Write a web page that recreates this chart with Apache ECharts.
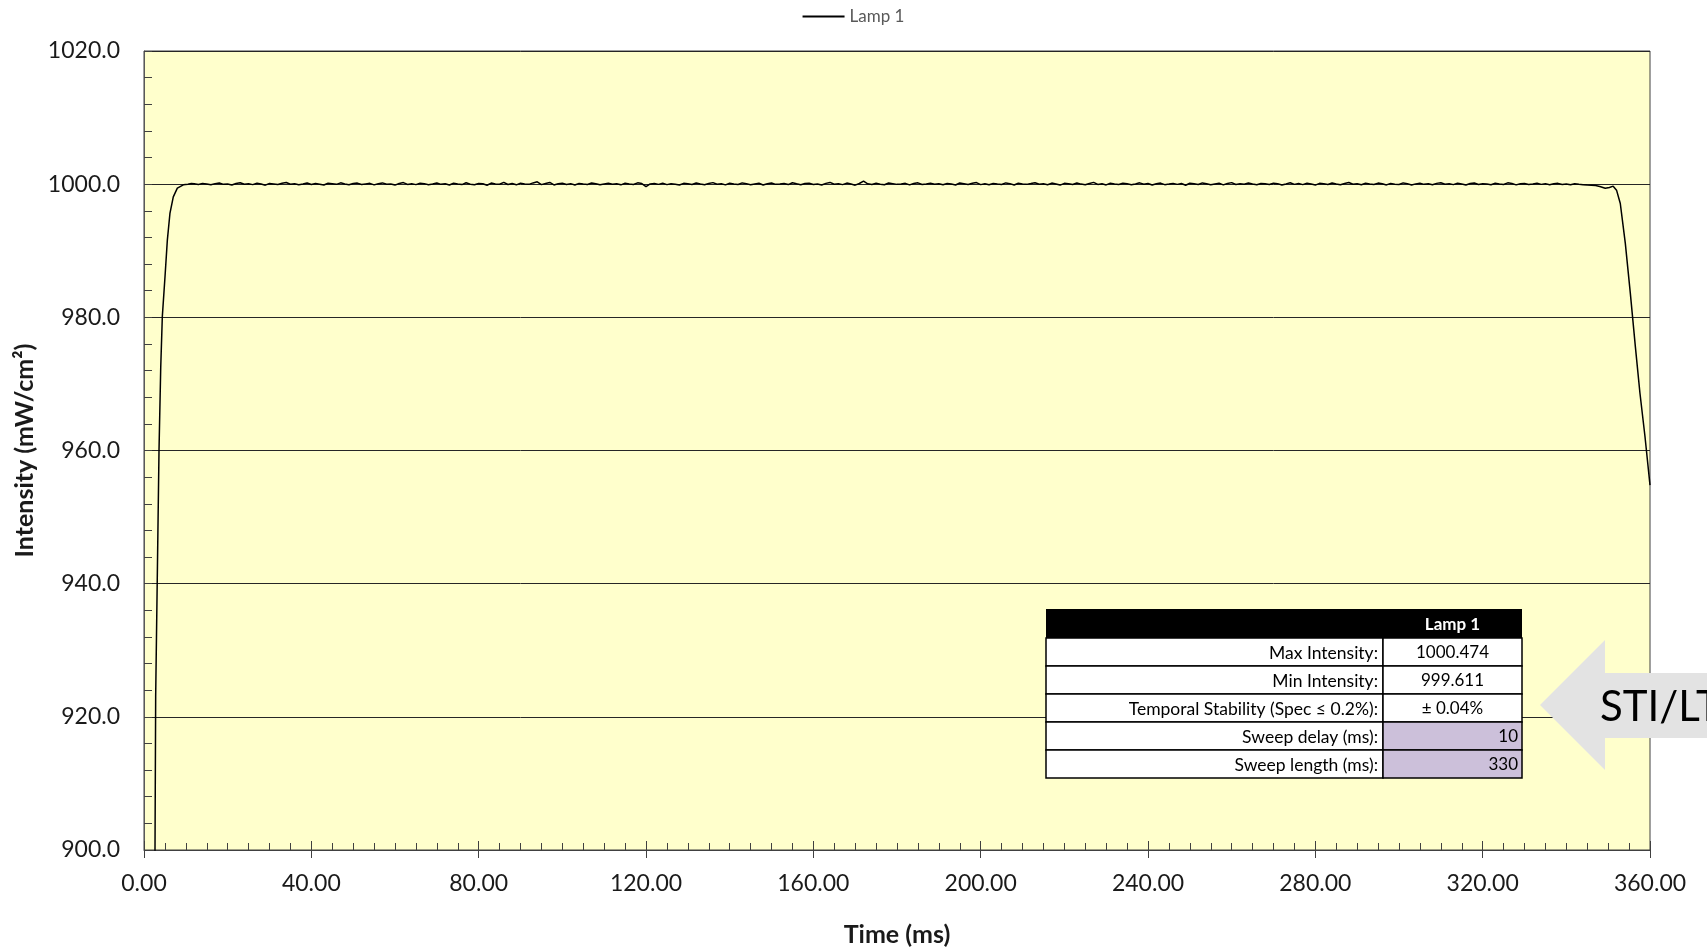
<!DOCTYPE html>
<html><head><meta charset="utf-8">
<script src="https://cdn.jsdelivr.net/npm/echarts@6/dist/echarts.min.js"></script>
<style>html,body{margin:0;padding:0;background:#fff}#c{width:1707px;height:948px}</style>
</head><body><div id="c"></div><script>
// ---- data ----
var seriesName = 'Lamp 1';
var rampTimes = [2.5, 2.63, 2.79, 3.19, 3.59, 4.0, 4.38, 5.02, 5.58, 6.2, 7.0, 7.97, 9.4, 10.5, 11.3];
var rampValues = [881, 900, 923, 941.6, 960.1, 972.5, 980.1, 986.1, 991.6, 995.6, 998.1, 999.4, 999.9, 1000.0, 1000.1];
var flatStart = 12, flatStep = 1;
var flatValues = [
1000.05,999.95,1000.12,1000.02,999.90,1000.08,1000.18,999.97,1000.03,999.88,1000.10,1000.22,999.99,1000.06,999.93,1000.15,1000.01,999.85,1000.09,1000.04,
999.96,1000.13,1000.25,999.98,1000.07,999.91,1000.02,1000.17,999.94,1000.11,1000.00,999.87,1000.14,1000.06,999.97,1000.20,1000.03,999.92,1000.09,1000.16,
999.95,1000.04,1000.12,999.89,1000.07,1000.19,999.98,1000.01,999.86,1000.10,1000.24,999.96,1000.05,999.93,1000.15,1000.08,999.90,1000.02,1000.18,999.97,
1000.06,999.88,1000.13,1000.03,999.94,1000.21,1000.00,999.91,1000.11,1000.07,999.84,1000.16,1000.04,999.98,1000.28,999.95,1000.09,999.90,1000.14,1000.02,
999.97,1000.19,1000.35,999.93,1000.10,1000.26,999.89,1000.05,1000.15,999.96,1000.08,999.87,1000.12,1000.01,999.94,1000.17,1000.06,999.92,1000.03,1000.13,
999.99,1000.07,999.90,1000.14,1000.02,999.95,1000.20,1000.09,999.62,1000.04,1000.11,999.97,1000.16,999.93,1000.06,1000.00,999.88,1000.12,1000.05,999.96,
1000.18,1000.03,999.91,1000.10,1000.23,999.98,1000.07,999.89,1000.14,1000.01,999.95,1000.19,1000.08,999.92,1000.04,1000.13,999.87,1000.06,1000.17,999.97,
1000.02,1000.11,999.94,1000.21,1000.05,999.90,1000.09,1000.15,999.96,1000.03,999.88,1000.12,1000.26,999.99,1000.07,999.93,1000.16,1000.02,999.85,1000.10,
1000.47,1000.06,999.95,1000.14,1000.00,999.91,1000.18,1000.08,999.97,1000.04,1000.12,999.89,1000.09,1000.20,999.94,1000.03,1000.15,999.98,1000.06,999.92,
1000.11,1000.01,999.87,1000.17,1000.07,999.96,1000.13,1000.24,999.93,1000.05,999.90,1000.10,1000.02,999.95,1000.19,1000.08,999.88,1000.14,1000.04,999.97,
1000.09,1000.22,999.99,1000.06,999.92,1000.16,1000.03,999.86,1000.12,1000.07,999.94,1000.18,1000.01,999.90,1000.10,1000.27,999.96,1000.05,999.89,1000.13,
1000.02,999.95,1000.15,1000.08,999.91,1000.04,1000.20,999.98,1000.11,999.87,1000.06,1000.16,999.93,1000.01,1000.12,999.97,1000.09,999.84,1000.14,1000.05,
999.96,1000.19,1000.07,999.92,1000.03,1000.13,999.89,1000.10,1000.23,999.95,1000.06,999.99,1000.17,1000.02,999.90,1000.11,1000.05,999.94,1000.15,1000.08,
999.88,1000.04,1000.21,999.97,1000.09,999.93,1000.14,1000.01,999.86,1000.12,1000.06,999.95,1000.18,1000.03,999.91,1000.10,1000.25,999.98,1000.07,999.92,
1000.13,1000.02,999.96,1000.16,1000.05,999.89,1000.11,1000.00,999.94,1000.19,1000.08,999.87,1000.04,1000.14,999.97,1000.06,999.90,1000.12,1000.22,999.99,
1000.05,999.93,1000.15,1000.03,999.88,1000.10,1000.17,999.95,1000.07,1000.01,999.91,1000.13,1000.04,999.96,1000.20,1000.09,999.89,1000.06,1000.11,999.94,
1000.02,1000.14,999.97,1000.08,999.92,1000.05,1000.12,999.95,1000.03,999.90,1000.07,999.98,999.93,999.88,999.85
];
var fallTimes = [347, 348, 349.3, 350.3, 351.2, 352.0, 352.9, 354.1, 355.3, 356.5, 357.6, 358.8, 360];
var fallValues = [999.8, 999.65, 999.4, 999.5, 999.7, 999.1, 997.1, 991.1, 983.6, 975.6, 968.6, 962.1, 954.8];

var xTicks = {min: 0, max: 360, interval: 40};
var yTicks = {min: 900, max: 1020, interval: 20};

var tableHeader = 'Lamp 1';
var tableLabels = ['Max Intensity:', 'Min Intensity:', 'Temporal Stability (Spec \u2264 0.2%):', 'Sweep delay (ms):', 'Sweep length (ms):'];
var tableValues = ['1000.474', '999.611', '\u00b1 0.04%', '10', '330'];
var tableInput = [false, false, false, true, true];
var calloutText = 'STI/LT';

// ---- build ----
var pts = [];
rampTimes.forEach(function (t, i) { pts.push([t, rampValues[i]]); });
flatValues.forEach(function (v, i) { pts.push([flatStart + i * flatStep, v]); });
fallTimes.forEach(function (t, i) { pts.push([t, fallValues[i]]); });

var FONT = 'Lato';
var graphics = [];
var tx = 1046, tw1 = 337, tw2 = 139, ty = 609, hh = 29, rh = 28;
graphics.push({type: 'rect', z: 100, shape: {x: tx, y: ty, width: tw1 + tw2, height: hh}, style: {fill: '#000'}});
graphics.push({type: 'text', z: 101, x: tx + tw1 + tw2 / 2, y: ty + hh / 2 + 1,
  style: {text: tableHeader, fill: '#fff', font: 'bold 17px ' + FONT, align: 'center', verticalAlign: 'middle'}});
tableLabels.forEach(function (lab, i) {
  var y = ty + hh + i * rh;
  graphics.push({type: 'rect', z: 100, shape: {x: tx, y: y, width: tw1, height: rh}, style: {fill: '#fff', stroke: '#000', lineWidth: 1.5}});
  graphics.push({type: 'rect', z: 100, shape: {x: tx + tw1, y: y, width: tw2, height: rh}, style: {fill: tableInput[i] ? '#CCC0DA' : '#fff', stroke: '#000', lineWidth: 1.5}});
  graphics.push({type: 'text', z: 101, x: tx + tw1 - 5, y: y + rh / 2 + 1,
    style: {text: lab, fill: '#000', font: '17.5px ' + FONT, align: 'right', verticalAlign: 'middle'}});
  graphics.push({type: 'text', z: 101, x: tableInput[i] ? tx + tw1 + tw2 - 4 : tx + tw1 + tw2 / 2, y: y + rh / 2 + 1,
    style: {text: tableValues[i], fill: '#000', font: '17px ' + FONT, align: tableInput[i] ? 'right' : 'center', verticalAlign: 'middle'}});
});
// callout arrow
graphics.push({type: 'polygon', z: 110, shape: {points: [[1540, 705], [1605, 640], [1605, 673], [1720, 673], [1720, 738], [1605, 738], [1605, 770]]},
  style: {fill: '#E3E3E3'}});
graphics.push({type: 'text', z: 111, x: 1600, y: 707,
  style: {text: calloutText, fill: '#000', font: '42px ' + FONT, align: 'left', verticalAlign: 'middle'}});

var chart = echarts.init(document.getElementById('c'));
chart.setOption({
  animation: false,
  backgroundColor: '#fff',
  textStyle: {fontFamily: FONT},
  legend: {
    top: 3, left: 'center', itemWidth: 42, itemHeight: 2, itemGap: 6,
    data: [{name: seriesName, icon: 'rect'}],
    textStyle: {color: '#595959', fontSize: 17, fontFamily: FONT}
  },
  grid: {left: 144, right: 57, top: 51, bottom: 98, outerBoundsMode: 'none', containLabel: false,
    show: true, backgroundColor: '#FFFFCC', borderColor: '#404040', borderWidth: 1},
  xAxis: [{
    type: 'value', min: xTicks.min, max: xTicks.max, interval: xTicks.interval, position: 'bottom',
    name: 'Time (ms)', nameLocation: 'middle', nameGap: 72,
    nameTextStyle: {fontSize: 25, fontWeight: 'bold', color: '#1a1a1a', fontFamily: FONT},
    axisLine: {show: true, lineStyle: {color: '#404040', width: 1}},
    axisTick: {show: true, inside: false, length: 8, lineStyle: {color: '#404040'}},
    axisLabel: {fontSize: 23, color: '#1a1a1a', margin: 22, formatter: function (v) { return v.toFixed(2); }},
    splitLine: {show: false}
  }, {
    type: 'value', min: xTicks.min, max: xTicks.max, interval: xTicks.interval, position: 'bottom', offset: 0,
    axisLine: {show: false},
    axisTick: {show: true, inside: true, length: 9, lineStyle: {color: '#404040'}},
    minorTick: {show: true, splitNumber: 8, length: 7, lineStyle: {color: '#404040'}},
    axisLabel: {show: false},
    splitLine: {show: false}
  }],
  yAxis: {
    type: 'value', min: yTicks.min, max: yTicks.max, interval: yTicks.interval,
    name: 'Intensity (mW/cm\u00b2)', nameLocation: 'middle', nameGap: 104, nameRotate: 90,
    nameTextStyle: {fontSize: 25, fontWeight: 'bold', color: '#1a1a1a', fontFamily: FONT},
    axisLine: {show: true, lineStyle: {color: '#595959', width: 1}},
    axisTick: {show: true, inside: true, length: 8, lineStyle: {color: '#404040'}},
    minorTick: {show: true, splitNumber: 5, length: 8, lineStyle: {color: '#404040'}},
    axisLabel: {fontSize: 23, color: '#1a1a1a', margin: 24, formatter: function (v) { return v.toFixed(1); }},
    splitLine: {show: true, lineStyle: {color: '#262626', width: 1}}
  },
  series: [{
    name: seriesName, type: 'line', xAxisIndex: 0, data: pts, showSymbol: false, symbol: 'none',
    clip: true, color: '#000', lineStyle: {color: '#000', width: 1.5}
  }],
  graphic: graphics
});
</script></body></html>
